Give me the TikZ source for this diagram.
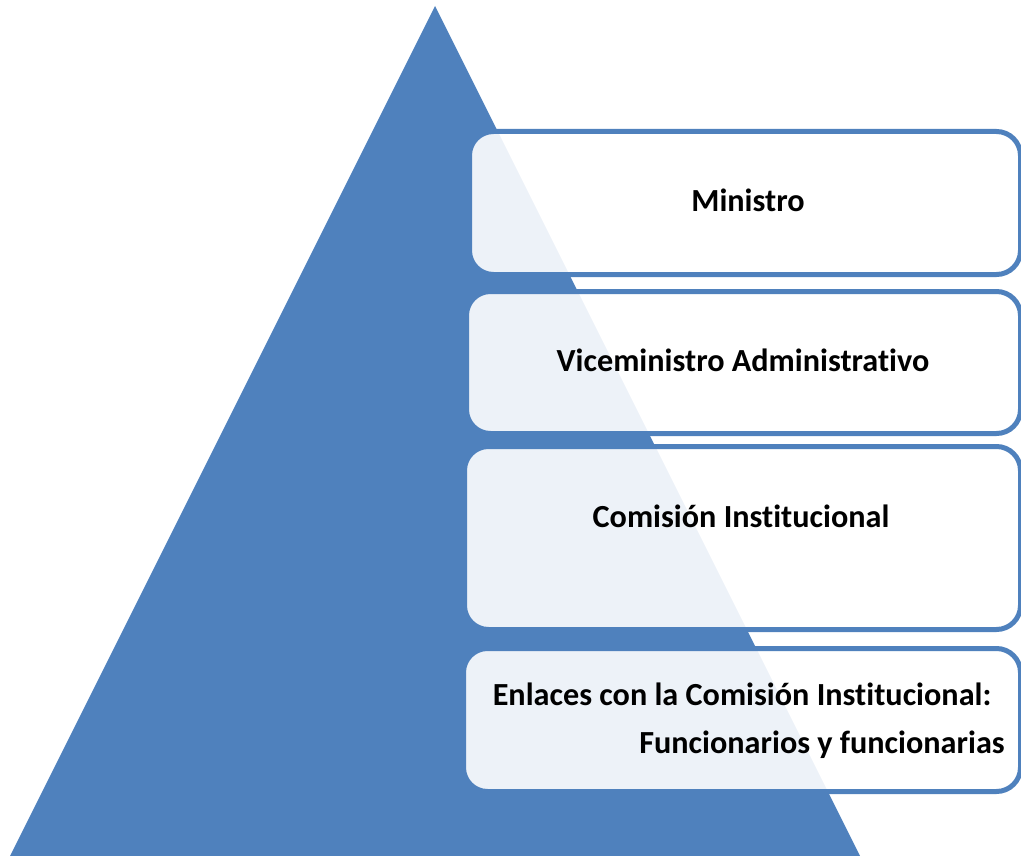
\documentclass[tikz,border=0pt]{standalone}
\usepackage{fontspec}
\setmainfont{Carlito}[RawFeature={-liga;-calt;-clig;-dlig}]
\definecolor{accent}{HTML}{4F81BD}
\newcommand{\tIsep}{t\kern0pt i}
\begin{document}
\begin{tikzpicture}[x=1pt,y=-1pt,
  box/.style={draw=accent, line width=5pt, fill=white, fill opacity=0.9, rounded corners=24pt, inner sep=0pt, anchor=north west},
  lbl/.style={font=\fontsize{32.2}{38}\selectfont\bfseries, text=black, inner sep=0pt}]
\useasboundingbox (0,0) rectangle (1021,856);
\clip (0,0) rectangle (1021,856);
\fill[accent] (435,6) coordinate (apex) -- (10,856) coordinate (bl) -- (860,856) coordinate (br) -- cycle;
\node[box, minimum width=551pt, minimum height=143pt] (b1) at (467,129) {};
\node[box, minimum width=554pt, minimum height=142pt] (b2) at (464,289) {};
\node[box, minimum width=556pt, minimum height=183pt] (b3) at (462,444) {};
\node[box, minimum width=557pt, minimum height=143pt] (b4) at (461,646) {};
\node[lbl] (t1) at (748,200) {Ministro};
\node[lbl] (t2) at (743,360) {Viceministro Administra\tIsep vo};
\node[lbl] (t3) at (741,516) {Comisión Ins\tIsep tucional};
\node[lbl] (t4a) at (742,694) {Enlaces con la Comisión Ins\tIsep tucional:};
\node[lbl] (t4b) at (822,745) {Funcionarios y funcionarias};
\end{tikzpicture}
\end{document}
